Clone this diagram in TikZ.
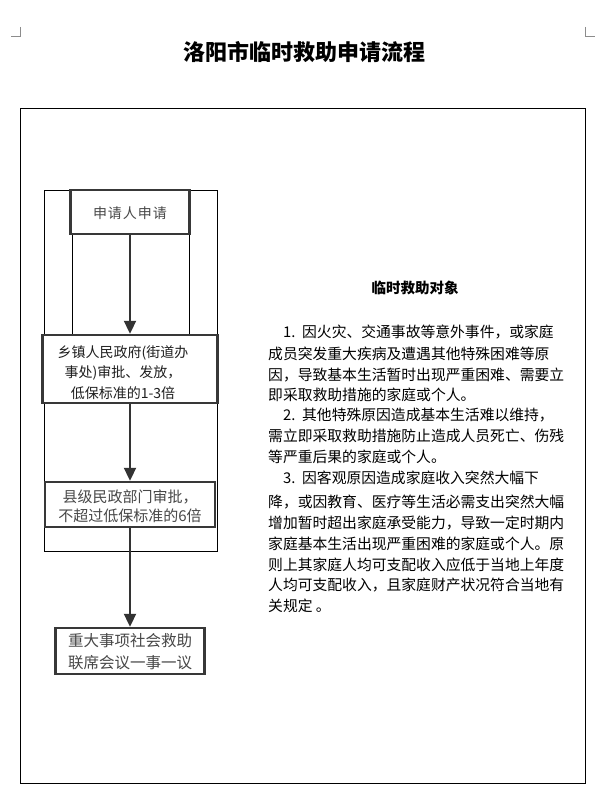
\documentclass[tikz,border=0pt]{standalone}
\usepackage{fontspec}
\usetikzlibrary{arrows.meta}
\setmainfont{Noto Sans CJK SC}
\XeTeXlinebreaklocale "zh"
\XeTeXlinebreakskip=0pt plus 1pt minus 1pt
\newcommand\jline[1]{\hbox to 291pt{#1}}
\tikzset{
  flowbox/.style={draw=black!78, line width=2.4pt, inner sep=0pt},
  boxtext/.style={inner sep=0pt, align=center, text=black!72},
  flowarrow/.style={draw=black!80, line width=2pt, -{Triangle[width=12pt,length=13pt]}},
  thinline/.style={draw=black, line width=0.9pt},
  cornermark/.style={draw=black!45, line width=0.6pt},
  bodyline/.style={anchor=base west, inner sep=0pt, font=\fontsize{14.8pt}{18pt}\selectfont},
}
\begin{document}
\begin{tikzpicture}[x=1pt,y=-1pt]
\useasboundingbox (0,0) rectangle (607,805);
% corner marks
\draw[cornermark] (20,27) -- (20,36) -- (11,36);
\draw[cornermark] (585,27) -- (585,36) -- (595,36);
% title
\node[inner sep=0pt, font=\bfseries\fontsize{22pt}{24pt}\selectfont] (title) at (304,52) {洛阳市临时救助申请流程};
% frame
\draw[thinline] (20,108) rectangle (585,783);
% decorative thin lines of the flow chart
\draw[thinline] (44,190) rectangle (217,551);
\draw[thinline] (72,234) -- (72,335);
\draw[thinline] (189,234) -- (189,335);
% boxes
\node[flowbox, fill=white, minimum width=119pt, minimum height=44pt] (b1) at (130,212) {};
\node[boxtext, font=\fontsize{14pt}{16pt}\selectfont] (b1t) at (130,213) {申\hspace{1pt}请\hspace{1pt}人\hspace{1pt}申\hspace{1pt}请};
\node[flowbox, fill=white, minimum width=175pt, minimum height=68pt] (b2) at (130,369) {};
\node[boxtext, text=black!88, font=\fontsize{14pt}{20.5pt}\selectfont] (b2t) at (123,372.5) {乡镇人民政府(街道办\\事处)审批、发放，\\低保标准的1-3倍};
\node[flowbox, fill=white, minimum width=170pt, minimum height=45pt] (b3) at (130,504.5) {};
\node[boxtext, font=\fontsize{15pt}{19pt}\selectfont] (b3t) at (130,506.5) {县级民政部门审批，\\不超过低保标准的6倍};
\node[flowbox, fill=white, minimum width=149pt, minimum height=46pt] (b4) at (130,651) {};
\node[boxtext, font=\fontsize{15.5pt}{22pt}\selectfont] (b4t) at (130,652) {重大事项社会救助\\联席会议一事一议};
% arrows
\draw[flowarrow] (b1) -- (b2);
\draw[flowarrow] (b2) -- (b3);
\draw[flowarrow] (b3) -- (b4);
% right text
\node[inner sep=0pt, font=\bfseries\fontsize{14.5pt}{16pt}\selectfont] (rt) at (415,288) {临时救助对象};
\node[bodyline] (l1) at (268,337.6) {\jline{\hspace*{15pt}\makebox[19pt][l]{1.}因火灾、交通事故等意外事件，或家庭}};
\node[bodyline] (l2) at (268,359.6) {\jline{成员突发重大疾病及遭遇其他特殊困难等原}};
\node[bodyline] (l3) at (268,380.6) {\jline{因，导致基本生活暂时出现严重困难、需要立}};
\node[bodyline] (l4) at (268,400.6) {即采取救助措施的家庭或个人。};
\node[bodyline] (l5) at (268,420.6) {\jline{\hspace*{15pt}\makebox[19pt][l]{2.}其他特殊原因造成基本生活难以维持，}};
\node[bodyline] (l6) at (268,441.6) {\jline{需立即采取救助措施防止造成人员死亡、伤残}};
\node[bodyline] (l7) at (268,462.6) {等严重后果的家庭或个人。};
\node[bodyline] (l8) at (268,483.6) {\hspace*{15pt}\makebox[19pt][l]{3.}因客观原因造成家庭收入突然大幅下};
\node[bodyline] (l9) at (268,507.6) {\jline{降，或因教育、医疗等生活必需支出突然大幅}};
\node[bodyline] (l10) at (268,528.6) {\jline{增加暂时超出家庭承受能力，导致一定时期内}};
\node[bodyline] (l11) at (268,549.6) {\jline{家庭基本生活出现严重困难的家庭或个人。原}};
\node[bodyline] (l12) at (268,570.6) {\jline{则上其家庭人均可支配收入应低于当地上年度}};
\node[bodyline] (l13) at (268,590.6) {\jline{人均可支配收入，且家庭财产状况符合当地有}};
\node[bodyline] (l14) at (268,611.6) {关规定 。};
\end{tikzpicture}
\end{document}
